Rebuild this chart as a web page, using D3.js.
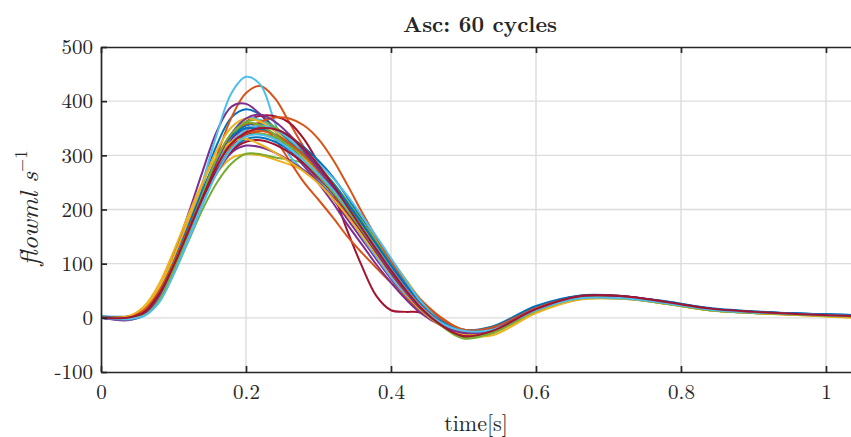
<!doctype html>
<meta charset="utf-8">
<style>
  body { margin: 0; background: #fff; }
  text { font-family: "Latin Modern Roman", "CMU Serif", "Liberation Serif", serif; fill: #262626; }
</style>
<body>
<script src="https://d3js.org/d3.v7.min.js"></script>
<script>

// sample times (s) shared by every cycle
const time = [0, .04, .06, .08, .1, .12, .14, .16, .18, .2, .22, .24, .26, .28, .3, .32, .34, .36, .38, .4, .42, .44, .47, .5, .54, .6, .66, .72, .78, .84, .9, .96, 1.04];

// flow (ml/s), one array per cycle
const c01 = [2, 2, 10, 40, 95, 165, 245, 320, 370, 385, 375, 350, 325, 300, 270, 235, 198, 160, 122, 85, 52, 24, -5, -22, -16, 22, 41, 39, 30, 17, 11, 8, 5];
const c02 = [0, 3, 15, 48, 100, 160, 225, 300, 370, 415, 428, 405, 360, 315, 280, 245, 205, 170, 135, 100, 65, 35, 0, -22, -18, 19, 38, 37, 28, 14, 9, 6, 2];
const c03 = [0, 0, 12, 45, 100, 160, 220, 268, 295, 302, 300, 292, 283, 272, 255, 228, 195, 160, 125, 90, 58, 28, -5, -28, -28, 12, 34, 35, 26, 14, 9, 6, 1];
const c04 = [0, -4, 8, 50, 115, 190, 270, 345, 390, 395, 375, 345, 315, 285, 255, 220, 182, 145, 108, 72, 40, 15, -12, -28, -20, 16, 38, 38, 28, 15, 10, 7, 3];
const c05 = [0, 0, 5, 30, 80, 140, 200, 250, 285, 303, 302, 296, 292, 285, 268, 240, 205, 168, 130, 95, 60, 28, -15, -38, -28, 12, 36, 36, 26, 14, 9, 6, 2];
const c06 = [0, -3, 5, 32, 85, 160, 250, 340, 415, 445, 430, 360, 300, 272, 252, 225, 190, 150, 112, 75, 42, 15, -12, -26, -20, 16, 36, 35, 27, 14, 9, 6, 2];
const c07 = [0, 0, 10, 40, 92, 155, 222, 285, 335, 362, 373, 372, 360, 330, 285, 232, 160, 95, 40, 14, 11, 10, -10, -25, -23, 16, 38, 38, 28, 16, 11, 7, 3];
const c08 = [0, 1, 12, 45, 100, 165, 230, 290, 335, 355, 358, 350, 335, 315, 290, 260, 222, 182, 142, 102, 65, 32, -5, -25, -20, 19, 41, 40, 30, 18, 12, 8, 5];
const c09 = [0, 2, 14, 48, 102, 165, 232, 295, 340, 358, 355, 330, 290, 250, 218, 185, 150, 120, 92, 65, 38, 15, -10, -25, -20, 18, 38, 37, 28, 15, 10, 7, 2];
const c10 = [0, 2, 16, 52, 108, 170, 232, 285, 325, 342, 340, 330, 315, 295, 272, 245, 212, 178, 142, 108, 72, 35, -8, -30, -32, 9, 34, 36, 27, 14, 9, 5, 0];
const c11 = [0, -2, 8, 42, 98, 160, 225, 285, 330, 350, 352, 338, 310, 280, 248, 212, 172, 135, 98, 65, 35, 10, -15, -30, -22, 16, 40, 40, 29, 16, 11, 7, 3];
const c12 = [0, 0, 6, 35, 90, 150, 215, 280, 335, 362, 365, 352, 330, 305, 280, 250, 215, 178, 140, 102, 65, 30, -12, -32, -26, 14, 37, 37, 27, 15, 10, 6, 2];
const c13 = [0, -3, 4, 30, 82, 145, 215, 285, 340, 368, 365, 345, 318, 290, 262, 230, 192, 152, 115, 78, 45, 18, -10, -26, -22, 14, 36, 36, 27, 15, 10, 7, 3];
const c14 = [0, 1, 12, 45, 98, 160, 222, 278, 318, 338, 340, 332, 315, 292, 265, 232, 195, 158, 120, 84, 50, 20, -12, -30, -24, 16, 39, 39, 29, 16, 11, 7, 3];
const c15 = [3, 3, 12, 46, 98, 158, 218, 272, 310, 330, 333, 325, 310, 292, 270, 242, 208, 172, 135, 98, 62, 30, -5, -22, -18, 20, 40, 39, 29, 17, 11, 8, 5];
const c16 = [0, 3, 16, 50, 102, 162, 222, 275, 318, 345, 362, 370, 368, 355, 330, 292, 245, 195, 148, 105, 68, 35, -2, -22, -18, 18, 38, 38, 28, 15, 10, 6, 2];
const c17 = [0, 3, 18, 55, 112, 178, 248, 310, 352, 368, 362, 345, 322, 295, 265, 230, 192, 155, 118, 82, 48, 18, -15, -28, -22, 14, 36, 36, 26, 14, 9, 6, 1];
const c18 = [0, -2, 8, 42, 95, 155, 215, 268, 305, 318, 315, 305, 290, 272, 250, 222, 190, 155, 120, 85, 50, 20, -12, -28, -22, 16, 39, 39, 28, 15, 10, 7, 3];
const c19 = [0, 0, 6, 34, 85, 148, 212, 270, 312, 335, 340, 333, 318, 298, 272, 242, 205, 168, 130, 92, 55, 22, -14, -35, -26, 14, 37, 37, 27, 15, 10, 6, 2];
const c20 = [0, -2, 5, 32, 85, 148, 215, 275, 322, 348, 355, 348, 330, 308, 285, 258, 225, 188, 150, 110, 70, 32, -8, -26, -24, 14, 36, 36, 27, 15, 10, 7, 3];
const c21 = [0, 1, 10, 42, 96, 158, 220, 272, 308, 325, 328, 320, 305, 285, 260, 230, 195, 158, 120, 82, 48, 18, -14, -32, -24, 16, 40, 40, 29, 17, 11, 7, 3];
const c22 = [1, 2, 14, 48, 102, 168, 235, 295, 335, 350, 348, 338, 322, 302, 278, 248, 212, 175, 136, 96, 58, 26, -8, -25, -20, 18, 40, 38, 29, 16, 11, 8, 4];
const c23 = [0, 3, 15, 48, 100, 162, 225, 282, 322, 340, 345, 338, 322, 300, 272, 240, 202, 165, 128, 90, 55, 24, -10, -26, -20, 18, 39, 38, 28, 15, 10, 6, 2];
const c24 = [0, 4, 22, 62, 122, 188, 250, 298, 325, 330, 320, 305, 288, 270, 248, 220, 188, 152, 116, 80, 46, 16, -15, -30, -24, 12, 35, 35, 26, 14, 9, 5, 1];
const c25 = [0, -3, 6, 40, 95, 158, 225, 290, 340, 368, 375, 362, 338, 308, 275, 240, 200, 160, 120, 82, 48, 18, -14, -28, -22, 16, 39, 39, 28, 16, 10, 7, 3];
const c26 = [0, 0, 5, 32, 88, 155, 228, 295, 340, 360, 355, 338, 315, 290, 262, 232, 198, 162, 125, 88, 52, 20, -15, -36, -28, 13, 36, 36, 26, 14, 9, 6, 2];
const c27 = [0, -2, 4, 28, 80, 142, 208, 268, 312, 335, 338, 330, 312, 290, 265, 236, 202, 165, 128, 90, 54, 22, -10, -24, -22, 14, 36, 36, 27, 15, 10, 7, 3];
const c28 = [0, 1, 11, 44, 96, 158, 222, 280, 322, 342, 350, 348, 335, 312, 282, 245, 205, 165, 126, 88, 52, 20, -14, -34, -24, 16, 40, 40, 29, 17, 11, 7, 3];

const cycles = [c01, c02, c03, c04, c05, c06, c07, c08, c09, c10, c11, c12, c13, c14,
                c15, c16, c17, c18, c19, c20, c21, c22, c23, c24, c25, c26, c27, c28];

const xTicks = [0, 0.2, 0.4, 0.6, 0.8, 1];
const yTicks = [-100, 0, 100, 200, 300, 400, 500];
const palette = ["#0072BD", "#D95319", "#EDB120", "#7E2F8E", "#77AC30", "#4DBEEE", "#A2142F"];

let width = 851, height = 437;
let plot = {left: 101, right: 851, top: 47, bottom: 372};

let x = d3.scaleLinear().domain([0, 1.0345]).range([plot.left, plot.right]);
let y = d3.scaleLinear().domain([-100, 500]).range([plot.bottom, plot.top]);

let svg = d3.select("body").append("svg")
    .attr("width", width)
    .attr("height", height);

svg.append("defs").append("clipPath").attr("id", "clip")
  .append("rect")
    .attr("x", plot.left).attr("y", plot.top)
    .attr("width", plot.right - plot.left).attr("height", plot.bottom - plot.top);

// grid
let grid = svg.append("g").attr("stroke", "#dcdcdc").attr("stroke-width", 1.4);
grid.selectAll(".gx").data(xTicks.slice(1)).enter().append("line")
    .attr("x1", d => x(d)).attr("x2", d => x(d))
    .attr("y1", plot.top).attr("y2", plot.bottom);
grid.selectAll(".gy").data(yTicks.slice(1, -1)).enter().append("line")
    .attr("x1", plot.left).attr("x2", plot.right)
    .attr("y1", d => y(d)).attr("y2", d => y(d));

// cycles
let line = d3.line()
    .x((d, i) => x(time[i]))
    .y(d => y(d))
    .curve(d3.curveCatmullRom.alpha(0.5));

svg.append("g").attr("clip-path", "url(#clip)")
  .selectAll("path").data(cycles).enter().append("path")
    .attr("d", line)
    .attr("fill", "none")
    .attr("stroke", (d, i) => palette[i % palette.length])
    .attr("stroke-width", 2);

// axes (MATLAB style: ticks inside, box on)
let axisCol = "#262626";
let gBottom = svg.append("g").attr("transform", `translate(0,${plot.bottom})`)
    .call(d3.axisBottom(x).tickValues(xTicks).tickSizeInner(-6).tickSizeOuter(0).tickPadding(12)
      .tickFormat(d => d === 0 || d === 1 ? String(d) : d3.format(".1f")(d)));
let gTop = svg.append("g").attr("transform", `translate(0,${plot.top})`)
    .call(d3.axisTop(x).tickValues(xTicks).tickSizeInner(-6).tickSizeOuter(0).tickFormat(""));
let gLeft = svg.append("g").attr("transform", `translate(${plot.left},0)`)
    .call(d3.axisLeft(y).tickValues(yTicks).tickSizeInner(-6).tickSizeOuter(0).tickPadding(8)
      .tickFormat(d => String(d)));

[gBottom, gTop, gLeft].forEach(g => {
  g.select(".domain").attr("stroke", axisCol).attr("stroke-width", 1.7);
  g.selectAll(".tick line").attr("stroke", axisCol).attr("stroke-width", 1.7);
  g.selectAll(".tick text").attr("fill", axisCol).attr("font-size", 21)
    .style("font-family", "'Latin Modern Roman','CMU Serif','Liberation Serif',serif");
});
gBottom.selectAll(".tick text").attr("dy", "0.71em");

// title and labels
svg.append("text")
    .attr("x", 480).attr("y", 32)
    .attr("text-anchor", "middle")
    .attr("font-size", 22).attr("font-weight", "bold")
    .text("Asc:  60 cycles");

svg.append("text")
    .attr("x", 476).attr("y", 431)
    .attr("text-anchor", "middle")
    .attr("font-size", 22)
    .text("time[s]");

let ylab = svg.append("text")
    .attr("transform", "translate(38,208) rotate(-90)")
    .attr("text-anchor", "middle")
    .attr("font-size", 26);
ylab.append("tspan").attr("font-style", "italic").text("flowml s");
ylab.append("tspan").attr("font-size", 17).attr("dy", -11).text("\u22121");

</script>
</body>
